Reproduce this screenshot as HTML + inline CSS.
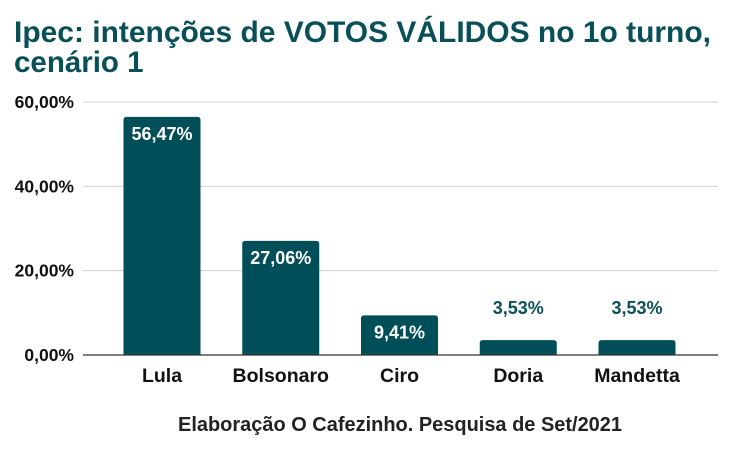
<!DOCTYPE html>
<html><head><meta charset="utf-8"><style>
body{margin:0;background:#fff;font-family:"Liberation Sans",sans-serif}
svg text{font-family:"Liberation Sans",sans-serif}
</style></head><body>
<svg width="739" height="446" id="chart">
<text x="14" y="42" font-size="29.5" font-weight="bold" fill="#084f58" textLength="697" lengthAdjust="spacingAndGlyphs">Ipec: intenções de VOTOS VÁLIDOS no 1o turno,</text>
<text x="14" y="72" font-size="29.5" font-weight="bold" fill="#084f58">cenário 1</text>
<g id="grid"></g><g id="bars"></g>
<line x1="83" x2="718" y1="355" y2="355" stroke="#333" stroke-width="1.2"/>
<text x="400" y="431" font-size="20" font-weight="bold" text-anchor="middle" fill="#222" textLength="444" lengthAdjust="spacingAndGlyphs">Elaboração O Cafezinho. Pesquisa de Set/2021</text>
</svg>
<script>
const categories=["Lula","Bolsonaro","Ciro","Doria","Mandetta"];
const values=[56.47,27.06,9.41,3.53,3.53];
const labels=["56,47%","27,06%","9,41%","3,53%","3,53%"];
const ticks=[0,20,40,60];
const tickLabels=["0,00%","20,00%","40,00%","60,00%"];
const NS="http://www.w3.org/2000/svg";
const y=v=>355-v*(253/60);
const x=i=>162+i*118.75;
function mk(t,a,p){const e=document.createElementNS(NS,t);for(const k in a)e.setAttribute(k,a[k]);p.appendChild(e);return e;}
const g=document.getElementById('grid'),b=document.getElementById('bars');
ticks.forEach((t,i)=>{
 if(t>0){const l=mk('line',{x1:83,x2:718,y1:y(t),y2:y(t),stroke:'#d0d0d0','stroke-width':1},g);
 
 }
 const tx=mk('text',{x:74,y:y(t)+6,'font-size':17.5,'font-weight':'bold','text-anchor':'end',fill:'#111'},g);
 tx.textContent=tickLabels[i];
 
 
});
values.forEach((v,i)=>{
 const h=355-y(v);
 const r=mk('path',{d:`M${x(i)-38.5},355V${y(v)+3}q0,-3 3,-3h71q3,0 3,3V355Z`,fill:'#004f58'},b);
 
 
 const inside=h>30;
 const lt=mk('text',{x:x(i),y:inside?y(v)+23:y(v)-26,'font-size':18,'font-weight':'bold','text-anchor':'middle',fill:inside?'#fff':'#0b4f5a'},b);
 lt.textContent=labels[i];
 
 
 const ct=mk('text',{x:x(i),y:382,'font-size':19.5,'font-weight':'bold','text-anchor':'middle',fill:'#111'},b);
 ct.textContent=categories[i];
 
 
});
</script>
</body></html>
